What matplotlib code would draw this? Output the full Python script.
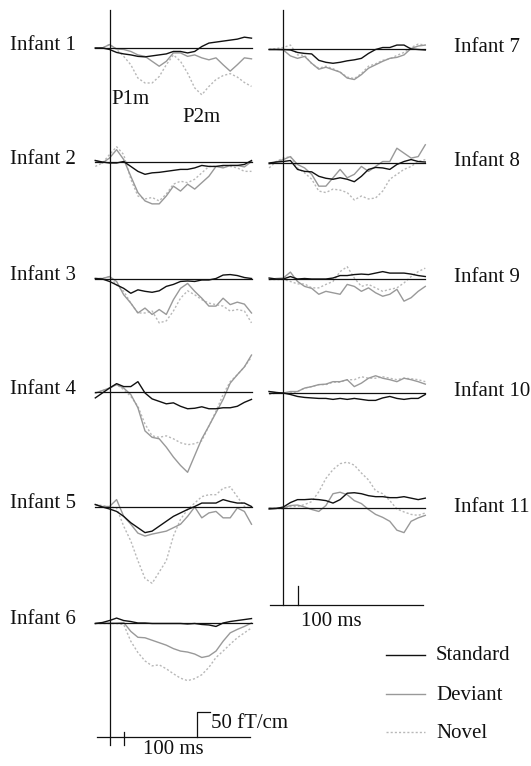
import matplotlib
matplotlib.use("Agg")
import matplotlib.pyplot as plt

# time grid (ms) shared by every trace
t_ms = [-100, -50, 0, 50, 100, 150, 200, 250, 300, 350, 400, 450,
        500, 550, 600, 650, 700, 750, 800, 850, 900, 950, 1000]

# amplitudes in fT/cm (standard / deviant / novel)
std1 = [0, 0, -3, -9, -12, -14, -17, -18, -16, -14, -12, -7, -7, -10, -7, 3, 10, 12, 14, 16, 18, 22, 20]
dev1 = [0, 0, 7, -2, -3, -7, -14, -17, -27, -37, -27, -10, -10, -17, -14, -20, -24, -20, -34, -47, -34, -20, -22]
nov1 = [0, 0, 7, -3, -17, -34, -61, -71, -71, -58, -34, -14, -27, -51, -81, -95, -78, -64, -56, -52, -59, -70, -78]

std2 = [3, 0, -2, -2, 1, -9, -19, -25, -22, -21, -19, -17, -15, -15, -12, -7, -9, -9, -7, -7, -7, -5, 3]
dev2 = [3, -2, 8, 25, 5, -29, -62, -79, -85, -85, -69, -49, -59, -45, -55, -42, -29, -9, -12, -7, -7, -10, 1]
nov2 = [-9, -2, 15, 31, 15, -35, -69, -75, -72, -79, -65, -45, -39, -42, -35, -22, -9, -9, -9, -9, -12, -19, -19]

std3 = [1, 0, -5, -12, -19, -29, -22, -25, -27, -24, -15, -11, -5, -4, -5, -2, -2, 1, 8, 9, 7, 3, 1]
dev3 = [1, 1, 5, -5, -32, -49, -69, -59, -72, -62, -72, -42, -19, -9, -25, -39, -55, -55, -39, -52, -47, -51, -69]
nov3 = [1, 1, 5, -12, -25, -49, -69, -69, -65, -89, -85, -65, -39, -24, -32, -42, -49, -52, -55, -65, -62, -65, -89]

std4 = [-12, -2, 8, 17, 11, 11, 21, -2, -14, -19, -24, -22, -29, -34, -33, -30, -34, -34, -32, -32, -29, -21, -15]
dev4 = [-2, 3, 8, 15, 8, -5, -32, -79, -92, -95, -112, -132, -149, -163, -129, -95, -69, -42, -15, 18, 35, 51, 75]
nov4 = [-3, 3, 8, 15, 5, -9, -29, -65, -89, -92, -89, -95, -103, -107, -105, -99, -69, -39, -5, 21, 35, 51, 71]

std5 = [5, 0, -4, -9, -19, -32, -42, -52, -49, -39, -29, -19, -12, -5, 1, 8, 8, 8, 15, 11, 8, 8, 1]
dev5 = [5, 1, 1, 15, -19, -35, -53, -59, -55, -52, -49, -42, -35, -19, 0, -22, -12, -9, -22, -22, -2, -9, -35]
nov5 = [5, 3, 0, -2, -39, -69, -109, -145, -155, -132, -109, -59, -25, -5, 8, 21, 25, 25, 38, 41, 21, 1, -2]

std6 = [-1, 1, 5, 10, 5, 3, 0, 0, -1, -1, -1, -1, -1, -2, -1, -3, -4, -7, 0, 3, 5, 7, 9]
dev6 = [-1, 0, 0, 0, 1, -17, -29, -30, -35, -40, -45, -52, -57, -59, -63, -70, -67, -57, -37, -20, -13, -7, 0]
nov6 = [-1, -1, -1, -1, -3, -37, -60, -77, -87, -85, -93, -103, -112, -117, -113, -105, -90, -70, -57, -43, -30, -20, -10]

std7 = [-1, -1, -1, -2, -7, -9, -10, -23, -27, -29, -27, -24, -22, -19, -9, -1, 3, 3, 8, 8, 0, -1, -2]
dev7 = [-1, -1, -2, -14, -19, -15, -29, -41, -37, -42, -47, -59, -62, -52, -39, -32, -25, -19, -17, -12, 1, 6, 8]
nov7 = [-1, 1, 3, 8, -12, -13, -30, -39, -35, -40, -47, -57, -60, -50, -35, -30, -23, -20, -13, -7, 3, 10, 8]

std8 = [0, 2, 3, 5, -13, -17, -18, -27, -31, -33, -30, -33, -38, -27, -13, -9, -10, -13, -3, 3, 7, 3, 2]
dev8 = [-2, 2, 7, 13, -3, -10, -23, -47, -47, -30, -13, -30, -23, -7, -17, -7, 3, 3, 30, 20, 10, 13, 37]
nov8 = [-10, 3, 10, 13, -10, -20, -33, -57, -60, -53, -55, -60, -75, -67, -73, -71, -57, -33, -23, -13, -7, 3, 7]

std9 = [2, 0, 0, 5, 0, 1, 0, 0, 0, 2, 7, 7, 9, 10, 9, 12, 15, 12, 12, 12, 10, 7, 5]
dev9 = [-1, 1, 2, 14, -5, -15, -19, -31, -25, -28, -31, -11, -15, -25, -18, -28, -35, -31, -21, -45, -38, -25, -15]
nov9 = [-1, -1, -1, -5, -10, -10, -18, -18, -11, -5, 15, 25, 2, -15, -11, -18, -25, -21, -18, -8, 5, 15, 22]

std10 = [3, 1, 0, -3, -7, -9, -10, -11, -11, -13, -11, -13, -11, -13, -15, -15, -10, -7, -11, -13, -11, -11, -3]
dev10 = [3, 1, 0, 3, 3, 10, 13, 17, 18, 23, 23, 27, 13, 20, 30, 35, 30, 27, 23, 30, 27, 23, 18]
nov10 = [-3, 0, 0, 0, 3, 10, 13, 17, 17, 22, 22, 27, 27, 33, 30, 30, 33, 30, 27, 30, 29, 27, 23]

std11 = [-2, -1, 2, 11, 17, 17, 18, 17, 15, 10, 17, 30, 31, 29, 25, 23, 23, 21, 21, 23, 20, 17, 20]
dev11 = [0, 0, 0, 5, 6, 2, -3, -7, 5, 29, 32, 27, 15, 9, -3, -13, -19, -27, -45, -50, -27, -20, -15]
nov11 = [0, 0, -2, 3, 3, 7, 13, 33, 60, 78, 90, 93, 87, 71, 57, 35, 29, 15, -2, -8, -13, -15, -10]

labels = ["Infant %d" % i for i in range(1, 12)]
legend_names = ["Standard", "Deviant", "Novel"]

# layout (pixels on a 531x766 canvas)
PX_PER_MS = 0.142
PX_PER_FT = 0.4926
left_onset, right_onset = 109.5, 283.3
left_base = [48, 162, 279, 392, 507, 623]
right_base = [49, 163, 279, 393, 508]

STD_C, DEV_C, NOV_C = "#111111", "#999999", "#b8b8b8"
FONT = dict(family="Liberation Serif", fontsize=15, color="#111111")

fig = plt.figure(figsize=(5.31, 7.66), dpi=100)
ax = fig.add_axes([0, 0, 1, 1])
ax.set_xlim(0, 531)
ax.set_ylim(766, 0)
ax.axis("off")

data = [(std1, dev1, nov1), (std2, dev2, nov2), (std3, dev3, nov3),
        (std4, dev4, nov4), (std5, dev5, nov5), (std6, dev6, nov6),
        (std7, dev7, nov7), (std8, dev8, nov8), (std9, dev9, nov9),
        (std10, dev10, nov10), (std11, dev11, nov11)]

for i, (std, dev, nov) in enumerate(data):
    if i < 6:
        onset, base = left_onset, left_base[i]
        ax.text(10, base - 3, labels[i], ha="left", va="center", **FONT)
    else:
        onset, base = right_onset, right_base[i - 6]
        ax.text(454, base - 1, labels[i], ha="left", va="center", **FONT)
    xs = [onset + t * PX_PER_MS for t in t_ms]
    ax.plot(xs, [base - v * PX_PER_FT for v in nov], color=NOV_C, lw=1.0,
            linestyle=(0, (1.5, 1.5)))
    ax.plot(xs, [base - v * PX_PER_FT for v in dev], color=DEV_C, lw=1.0)
    ax.plot([xs[0], xs[-1]], [base, base], color=STD_C, lw=0.9)
    ax.plot(xs, [base - v * PX_PER_FT for v in std], color=STD_C, lw=1.0)

# onset lines and time axes
ax.plot([left_onset, left_onset], [10, 745], color=STD_C, lw=0.9)
ax.plot([97, 250], [737, 737], color=STD_C, lw=0.9)
ax.plot([left_onset + 100 * PX_PER_MS] * 2, [732, 745], color=STD_C, lw=0.9)
ax.text(173, 750, "100 ms", ha="center", va="center", **FONT)

ax.plot([right_onset, right_onset], [10, 605], color=STD_C, lw=0.9)
ax.plot([270, 423], [605, 605], color=STD_C, lw=0.9)
ax.plot([right_onset + 100 * PX_PER_MS] * 2, [586, 605], color=STD_C, lw=0.9)
ax.text(331, 622, "100 ms", ha="center", va="center", **FONT)

# amplitude scale bar: 50 fT/cm
bar_x = 197
ax.plot([bar_x + 13, bar_x, bar_x], [737 - 50 * PX_PER_FT, 737 - 50 * PX_PER_FT, 737],
        color=STD_C, lw=0.9)
ax.text(211, 724, "50 fT/cm", ha="left", va="center", **FONT)

# component labels
ax.text(111, 99, "P1m", ha="left", va="center", **FONT)
ax.text(182, 117, "P2m", ha="left", va="center", **FONT)

# legend
for y, name, c, ls in zip([655, 694, 732], legend_names, [STD_C, DEV_C, NOV_C],
                          ["-", "-", (0, (1.5, 1.5))]):
    ax.plot([386, 425], [y, y], color=c, lw=1.0, linestyle=ls)
    ax.text(436, y + 1, name, ha="left", va="center", **FONT)

fig.savefig("out.png", dpi=100)
